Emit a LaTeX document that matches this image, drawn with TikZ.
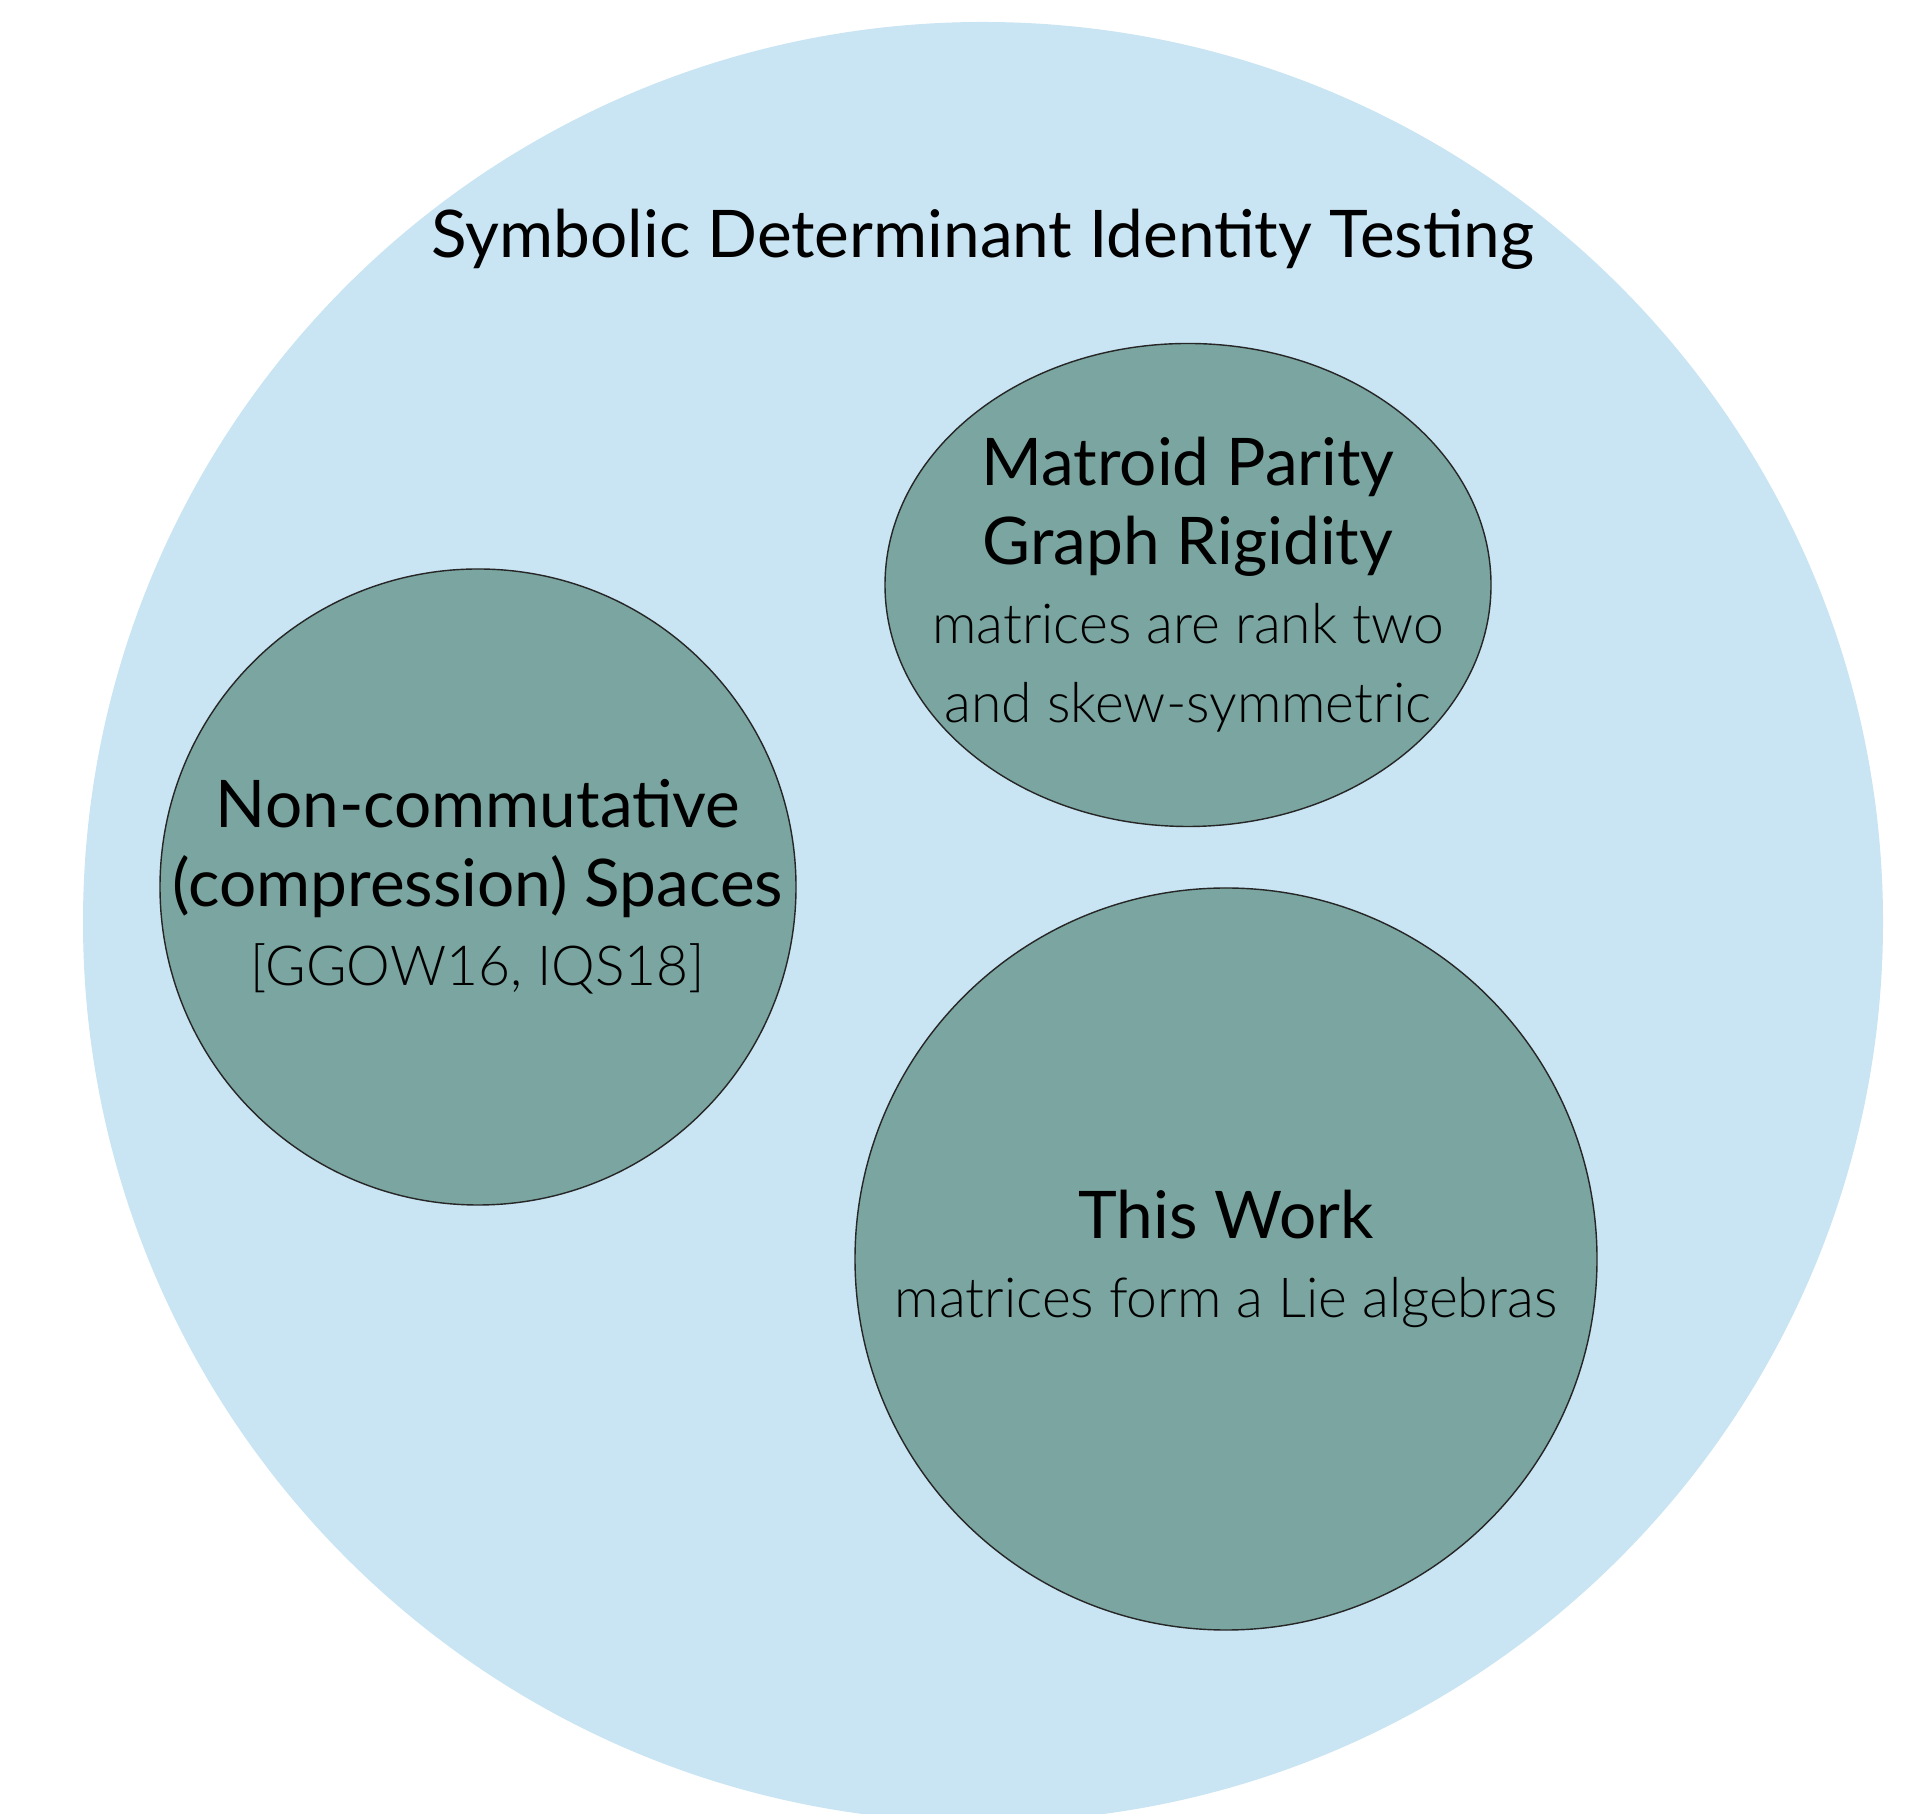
\documentclass[tikz,border=0pt]{standalone}
\usepackage{fontspec}
\setmainfont{Lato}
\newfontfamily\lightfont{Lato Light}
\usetikzlibrary{shapes.geometric}

\definecolor{sditblue}{RGB}{201,228,242}
\definecolor{classgreen}{RGB}{122,165,160}

\newcommand\lighttext[1]{{\lightfont\fontsize{15.7}{22.5}\selectfont #1}}

\begin{document}
\begin{tikzpicture}[
  area/.style={fill=classgreen, draw=black!85, line width=0.4pt, inner sep=0pt},
  label/.style={font=\fontsize{18.7}{22.5}\selectfont, align=center, inner sep=0pt}
]

\useasboundingbox (0,0) rectangle (19.26,18.13);
\clip (0,0) rectangle (19.26,18.13);

% the big class
\fill[sditblue] (9.83,8.91) circle (9.0);
\node[label, anchor=base] (sdit) at (9.83,15.55) {Symbolic Determinant Identity Testing};

% sub classes
\node[area, circle, minimum size=6.36cm] (nc) at (4.78,9.26) {};
\node[label] (nctext) at (nc) {Non-commutative\\(compression) Spaces\\\lighttext{[GGOW16, IQS18]}};

\node[area, ellipse, minimum width=6.06cm, minimum height=4.83cm] (mp) at (11.88,12.28) {};
\node[label] (mptext) at (mp) {Matroid Parity\\Graph Rigidity\\\lighttext{matrices are rank two}\\\lighttext{and skew-symmetric}};

\node[area, circle, minimum size=7.42cm] (tw) at (12.26,5.54) {};
\node[label] (twtext) at (tw) {This Work\\\lighttext{matrices form a Lie algebras}};

\end{tikzpicture}
\end{document}
